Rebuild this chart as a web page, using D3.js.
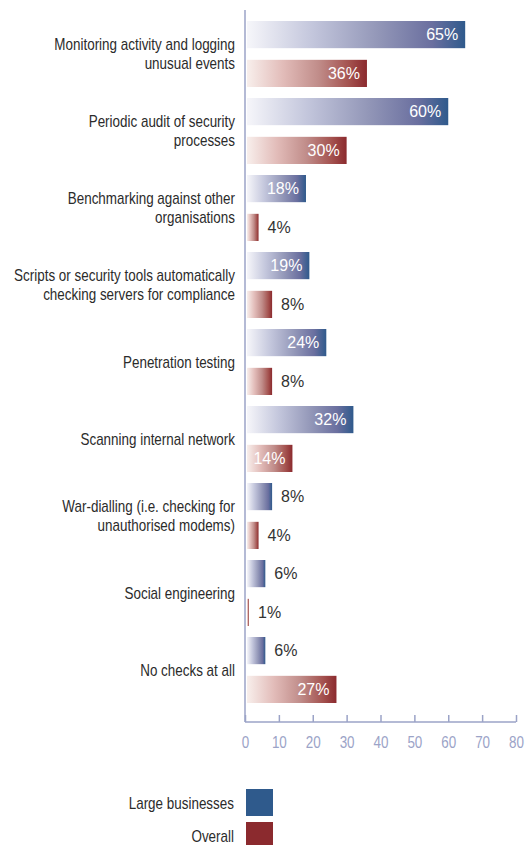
<!DOCTYPE html>
<html>
<head>
<meta charset="utf-8">
<script src="https://cdn.jsdelivr.net/npm/d3@7/dist/d3.min.js"></script>
<style>
  html, body { margin: 0; padding: 0; background: #fff; }
  svg { display: block; }
</style>
</head>
<body>
<svg id="chart" width="525" height="845"></svg>
<script>
// Security checks carried out, large businesses vs overall (%)
const categories = [
  ["Monitoring activity and logging", "unusual events"],
  ["Periodic audit of security", "processes"],
  ["Benchmarking against other", "organisations"],
  ["Scripts or security tools automatically", "checking servers for compliance"],
  ["Penetration testing"],
  ["Scanning internal network"],
  ["War-dialling (i.e. checking for", "unauthorised modems)"],
  ["Social engineering"],
  ["No checks at all"]
];
const largeBusinesses = [65, 60, 18, 19, 24, 32, 8, 6, 6];
const overall = [36, 30, 4, 8, 8, 14, 4, 1, 27];
const seriesNames = ["Large businesses", "Overall"];
const xTicks = [0, 10, 20, 30, 40, 50, 60, 70, 80];

const svg = d3.select("#chart");
// narrow label face: regular sans squeezed horizontally
const labelFont = "'Liberation Sans', Arial, sans-serif";
const squeeze = 0.84;
const valueFont = "'Liberation Sans', Arial, sans-serif";
const axisColor = "#9ba3c7";
const textColor = "#2b2b2b";

const x = d3.scaleLinear().domain([0, 80]).range([245, 516]);
const groups = d3.scaleBand().domain(d3.range(categories.length)).range([21, 714]);
const inner = d3.scaleBand().domain([0, 1]).range([0, 66]).paddingInner(0.3);

// gradients: pale on the left, full colour on the right of each bar
const defs = svg.append("defs");
const gradStops = {
  blue: [["0%", "#f6f6fa"], ["30%", "#c3c6dc"], ["60%", "#9397b8"], ["85%", "#6a6f9f"], ["100%", "#2f5a8c"]],
  red: [["0%", "#f8efec"], ["30%", "#e2bcb9"], ["60%", "#c08c89"], ["85%", "#a4524f"], ["100%", "#8b2a2e"]]
};
Object.entries(gradStops).forEach(([name, stops]) => {
  const g = defs.append("linearGradient").attr("id", "grad-" + name)
    .attr("x1", "0%").attr("x2", "100%").attr("y1", "0%").attr("y2", "0%");
  stops.forEach(([o, c]) => g.append("stop").attr("offset", o).attr("stop-color", c));
});

const seriesData = [
  { values: largeBusinesses, fill: "url(#grad-blue)" },
  { values: overall, fill: "url(#grad-red)" }
];

const barStart = x(0) + 2;
categories.forEach((cat, i) => {
  const g = svg.append("g").attr("transform", `translate(0,${groups(i)})`);
  seriesData.forEach((s, j) => {
    const v = s.values[i];
    const y0 = inner(j);
    const h = inner.bandwidth();
    const w = Math.max(x(v) - barStart, 2);
    g.append("rect").attr("x", barStart).attr("y", y0).attr("width", w).attr("height", h)
      .attr("fill", s.fill);
    const inside = v >= 10;
    g.append("text")
      .attr("x", inside ? x(v) - 7 : barStart + w + 9)
      .attr("y", y0 + h / 2)
      .attr("dy", "0.36em")
      .attr("text-anchor", inside ? "end" : "start")
      .attr("fill", inside ? "#ffffff" : "#333333")
      .attr("font-family", valueFont)
      .attr("font-size", 16)
      .text(v + "%");
  });
  // category label, centred on the group
  const lineH = 19;
  const cy = 33 - (cat.length - 1) * lineH / 2;
  const t = g.append("text").attr("text-anchor", "end")
    .attr("transform", `translate(235,0) scale(${squeeze},1)`)
    .attr("font-family", labelFont).attr("font-size", 16).attr("fill", textColor);
  cat.forEach((line, k) => {
    t.append("tspan").attr("x", 0).attr("y", cy + k * lineH).attr("dy", "0.35em").text(line);
  });
});

// axes
svg.append("line").attr("x1", x(0)).attr("x2", x(0)).attr("y1", 10).attr("y2", 722)
  .attr("stroke", axisColor).attr("stroke-width", 1.5);
const axis = d3.axisBottom(x).tickValues(xTicks).tickSize(-7).tickPadding(15).tickFormat(d3.format("d"));
const ax = svg.append("g").attr("transform", "translate(0,722)").call(axis);
ax.select(".domain").attr("stroke", axisColor).attr("stroke-width", 1.5).attr("d", `M${x(0)},0H${x(80)}`);
ax.selectAll(".tick line").attr("stroke", axisColor).attr("stroke-width", 1.5);
ax.selectAll(".tick text").attr("fill", axisColor).attr("font-family", labelFont).attr("font-size", 16)
  .attr("transform", `scale(${squeeze},1)`);

// legend
const legendColors = ["#2f5a8c", "#8b2a2e"];
seriesNames.forEach((name, i) => {
  const y0 = 789 + i * 33;
  svg.append("rect").attr("x", 246).attr("y", y0).attr("width", 27).attr("height", i === 0 ? 27 : 23)
    .attr("fill", legendColors[i]);
  svg.append("text").attr("transform", `translate(234,0) scale(${squeeze},1)`)
    .attr("x", 0).attr("y", y0 + 14).attr("dy", "0.35em")
    .attr("text-anchor", "end").attr("font-family", labelFont).attr("font-size", 16)
    .attr("fill", textColor).text(name);
});
</script>
</body>
</html>
